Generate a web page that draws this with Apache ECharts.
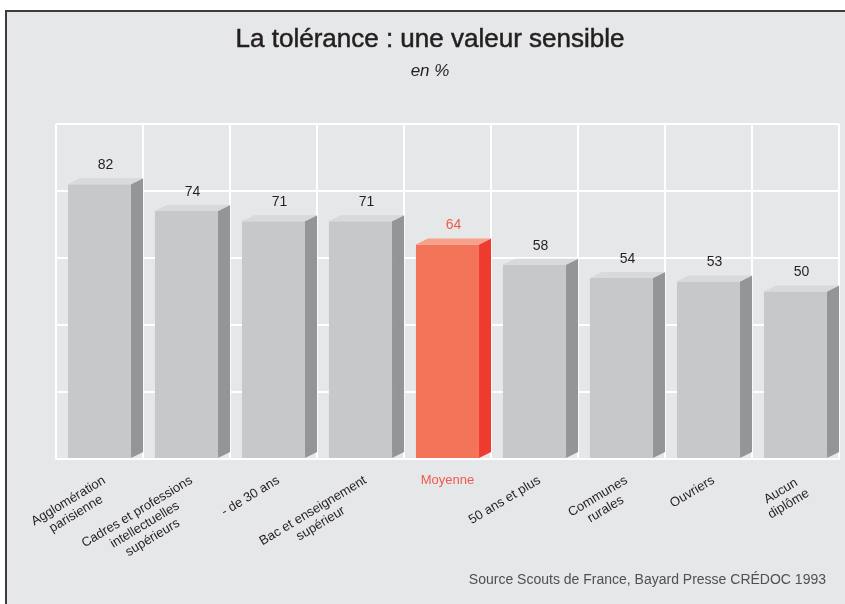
<!DOCTYPE html>
<html>
<head>
<meta charset="utf-8">
<script src="https://cdn.jsdelivr.net/npm/echarts@6/dist/echarts.min.js"></script>
<style>
html, body { margin: 0; padding: 0; background: #fff; overflow: hidden; }
#frame { position: absolute; left: 5px; top: 10px; width: 900px; height: 700px;
  background: #e6e7e9; border-left: 2px solid #3c3c3c; border-top: 2px solid #3c3c3c; }
#chart { position: absolute; left: 0; top: 0; width: 845px; height: 604px; }
</style>
</head>
<body>
<div id="frame"></div>
<div id="chart"></div>
<script>
var categories = [
	'Agglomération\nparisienne',
	'Cadres et professions\nintellectuelles\nsupérieurs',
	'- de 30 ans',
	'Bac et enseignement\nsupérieur',
	'Moyenne',
	'50 ans et plus',
	'Communes\nrurales',
	'Ouvriers',
	'Aucun\ndiplôme'
];
var values = [82, 74, 71, 71, 64, 58, 54, 53, 50];
var highlightIndex = 4; // "Moyenne"
var yMin = 0, yMax = 100, yStep = 20;

var narrowFont = '"Liberation Sans Narrow", "Arial Narrow", "Liberation Sans", sans-serif';
var mainFont = '"Liberation Sans", Arial, sans-serif';
var labelFont = '13px ' + narrowFont;

var grayFace = { front: '#c7c8ca', side: '#939598', top: '#d8d9db', text: '#231f20' };
var redFace = { front: '#f37459', side: '#ee3b30', top: '#f7a08a', text: '#f05a4e' };

var measureCtx = document.createElement('canvas').getContext('2d');
function widest(lines, font) {
	measureCtx.font = font;
	var w = 0;
	lines.forEach(function(l) { w = Math.max(w, measureCtx.measureText(l).width); });
	return w;
}

var angle = 31 * Math.PI / 180;

function renderBar(params, api) {
	var idx = api.value(0);
	var val = api.value(1);
	var top = api.coord([idx, val]);
	var base = api.coord([idx, 0]);
	var band = api.size([1, 0])[0];
	var fw = band * 0.725, dx = band * 0.138, dy = 6;
	var x0 = top[0] - fw / 2, x1 = top[0] + fw / 2;
	var y0 = base[1] - 1, y1 = top[1];
	var c = idx === highlightIndex ? redFace : grayFace;
	var children = [
		{ type: 'polygon', shape: { points: [[x0, y0], [x0, y1], [x1, y1], [x1, y0]] }, style: { fill: c.front } },
		{ type: 'polygon', shape: { points: [[x1, y0], [x1, y1], [x1 + dx, y1 - dy], [x1 + dx, y0 - dy]] }, style: { fill: c.side } },
		{ type: 'polygon', shape: { points: [[x0, y1], [x1, y1], [x1 + dx, y1 - dy], [x0 + dx, y1 - dy]] }, style: { fill: c.top } },
		{ type: 'text', x: top[0] + dx / 2, y: y1 - 19,
			style: { text: String(val), align: 'center', verticalAlign: 'middle', font: '14px ' + mainFont, fill: c.text } }
	];
	var name = categories[idx];
	if (idx === highlightIndex) {
		children.push({ type: 'text', x: top[0], y: base[1] + 21,
			style: { text: name, align: 'center', verticalAlign: 'middle', font: labelFont, fill: c.text } });
	} else {
		var w = widest(name.split('\n'), labelFont);
		children.push({ type: 'text', x: top[0] + 1, y: base[1] + 14, rotation: angle,
			style: { text: name, x: -w / 2, y: 0, align: 'center', verticalAlign: 'top',
				lineHeight: 15, font: labelFont, fill: '#231f20' } });
	}
	return { type: 'group', children: children };
}

var myChart = echarts.init(document.getElementById('chart'));
var option = {
	backgroundColor: 'transparent',
	animation: false,
	graphic: [
		{ type: 'text', x: 430, y: 40,
			style: { text: 'La tolérance : une valeur sensible', align: 'center', verticalAlign: 'middle',
				textAlign: 'center', textVerticalAlign: 'middle', font: '26px ' + mainFont,
				fill: '#231f20', stroke: '#231f20', lineWidth: 0.5 } },
		{ type: 'text', x: 430, y: 71,
			style: { text: 'en %', align: 'center', verticalAlign: 'middle',
				textAlign: 'center', textVerticalAlign: 'middle', font: 'italic 17px ' + narrowFont, fill: '#231f20' } },
		{ type: 'text', x: 826, y: 580,
			style: { text: 'Source Scouts de France, Bayard Presse CRÉDOC 1993', align: 'right', verticalAlign: 'middle',
				textAlign: 'right', textVerticalAlign: 'middle', font: '14px ' + mainFont, fill: '#505050' } }
	],
	grid: {
		left: 56,
		right: 6,
		top: 124,
		bottom: 145
	},
	xAxis: {
		type: 'category',
		data: categories,
		axisTick: { show: false },
		axisLabel: { show: false, interval: 0 },
		axisLine: { lineStyle: { color: '#ffffff', width: 2 } },
		splitLine: { show: true, interval: 0, lineStyle: { color: '#ffffff', width: 2 } }
	},
	yAxis: {
		type: 'value',
		min: yMin,
		max: yMax,
		interval: yStep,
		axisLabel: { show: false },
		axisLine: { show: false },
		axisTick: { show: false },
		splitLine: { lineStyle: { color: '#ffffff', width: 2 } }
	},
	series: [{
		type: 'custom',
		renderItem: renderBar,
		clip: false,
		encode: { x: 0, y: 1 },
		data: values.map(function(v, i) { return [i, v]; })
	}]
};
myChart.setOption(option);
</script>
</body>
</html>
